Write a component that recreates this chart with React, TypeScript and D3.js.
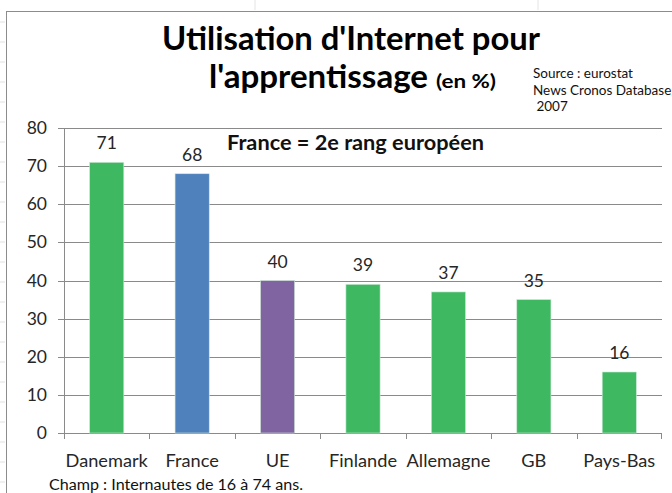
import React from "react";
import * as d3 from "d3";

const categories = ["Danemark", "France", "UE", "Finlande", "Allemagne", "GB", "Pays-Bas"];
const values = [71, 68, 40, 39, 37, 35, 16];
const barColors = ["#3fb862", "#4f81bd", "#8064a2", "#3fb862", "#3fb862", "#3fb862", "#3fb862"];
const yTicks = [0, 10, 20, 30, 40, 50, 60, 70, 80];
const titleLine1 = "Utilisation d'Internet pour";
const titleLine2 = "l'apprentissage";
const titleUnit = "(en %)";
const sourceLines = ["Source : eurostat", "News Cronos Database", " 2007"];
const annotation = "France = 2e rang européen";
const footnote = "Champ : Internautes de 16 à 74 ans.";

const W = 672;
const H = 493;
const FONT = "Lato, 'Open Sans', sans-serif";

export default function App() {
  const x = d3.scaleBand<string>().domain(categories).range([64, 662]).paddingInner(0.6).paddingOuter(0.3);
  const xb = d3.scaleBand<string>().domain(categories).range([64, 662]);
  const y = d3.scaleLinear().domain([0, 80]).range([433, 128]);
  const textCol = "#262626";

  return (
    <svg width={W} height={H} style={{ position: "absolute", left: 0, top: 0, background: "#fff" }}>
      {/* faint spreadsheet background lines */}
      {[0, 1, 2, 3, 4].map((i) => (
        <line key={"vg" + i} x1={255 + i * 283} x2={255 + i * 283} y1={0} y2={10} stroke="#e4e4e4" />
      ))}
      {d3.range(0, 25).map((i) => (
        <line key={"hg" + i} x1={0} x2={5} y1={22 + i * 20} y2={22 + i * 20} stroke="#e0e0e0" />
      ))}
      {/* chart frame */}
      <rect x={6.5} y={11.5} width={700} height={500} fill="#fff" stroke="#8c8c8c" strokeWidth={1} />

      {/* gridlines */}
      {yTicks.map((t) => (
        <line key={"g" + t} x1={64} x2={662} y1={Math.round(y(t)) + 0.5} y2={Math.round(y(t)) + 0.5} stroke="#8a8a8a" strokeWidth={1} />
      ))}
      {/* y axis */}
      <line x1={64.5} x2={64.5} y1={y(80)} y2={y(0)} stroke="#8a8a8a" />
      {yTicks.map((t) => (
        <g key={"yt" + t}>
          <line x1={58} x2={64} y1={Math.round(y(t)) + 0.5} y2={Math.round(y(t)) + 0.5} stroke="#8a8a8a" />
          <text x={47} y={y(t) + 6} textAnchor="end" fontFamily={FONT} fontSize={17.5} fill={textCol}>
            {t}
          </text>
        </g>
      ))}
      {/* x ticks */}
      {categories.map((c) => (
        <line key={"xt" + c} x1={Math.round(xb(c)!) + 0.5} x2={Math.round(xb(c)!) + 0.5} y1={433} y2={439} stroke="#8a8a8a" />
      ))}
      <line x1={661.5} x2={661.5} y1={433} y2={439} stroke="#8a8a8a" />

      {/* bars */}
      {categories.map((c, i) => (
        <g key={"b" + c}>
          <rect
            x={x(c)}
            y={y(values[i])}
            width={x.bandwidth()}
            height={y(0) - y(values[i])}
            fill={barColors[i]}
            stroke="#cfe8d8"
            strokeWidth={0.6}
          />
          <text
            x={x(c)! + x.bandwidth() / 2}
            y={y(values[i]) - 13}
            textAnchor="middle"
            fontFamily={FONT}
            fontSize={17.5}
            fill={textCol}
          >
            {values[i]}
          </text>
          <text
            x={xb(c)! + xb.bandwidth() / 2}
            y={467}
            textAnchor="middle"
            fontFamily={FONT}
            fontSize={18.2}
            fill={textCol}
          >
            {c}
          </text>
        </g>
      ))}

      {/* titles */}
      <text x={162} y={50} textLength={378} lengthAdjust="spacingAndGlyphs" fontFamily={FONT} fontWeight="bold" fontSize={32} fill="#000">
        {titleLine1}
      </text>
      <text x={209} y={88} textLength={219} lengthAdjust="spacingAndGlyphs" fontFamily={FONT} fontWeight="bold" fontSize={32} fill="#000">
        {titleLine2}
      </text>
      <text x={436} y={88} textLength={60} lengthAdjust="spacingAndGlyphs" fontFamily={FONT} fontWeight="bold" fontSize={19} fill="#000">
        {titleUnit}
      </text>
      {sourceLines.map((s, i) => (
        <text key={"s" + i} x={533} y={78 + i * 16.5} fontFamily={FONT} fontSize={13.5} fill="#111" xmlSpace="preserve">
          {s}
        </text>
      ))}
      <text x={227} y={150} textLength={257} lengthAdjust="spacingAndGlyphs" fontFamily={FONT} fontWeight="bold" fontSize={20} fill="#111">
        {annotation}
      </text>
      <text x={49} y={490} textLength={254} lengthAdjust="spacingAndGlyphs" fontFamily={FONT} fontSize={14.5} fill="#111">
        {footnote}
      </text>
    </svg>
  );
}
